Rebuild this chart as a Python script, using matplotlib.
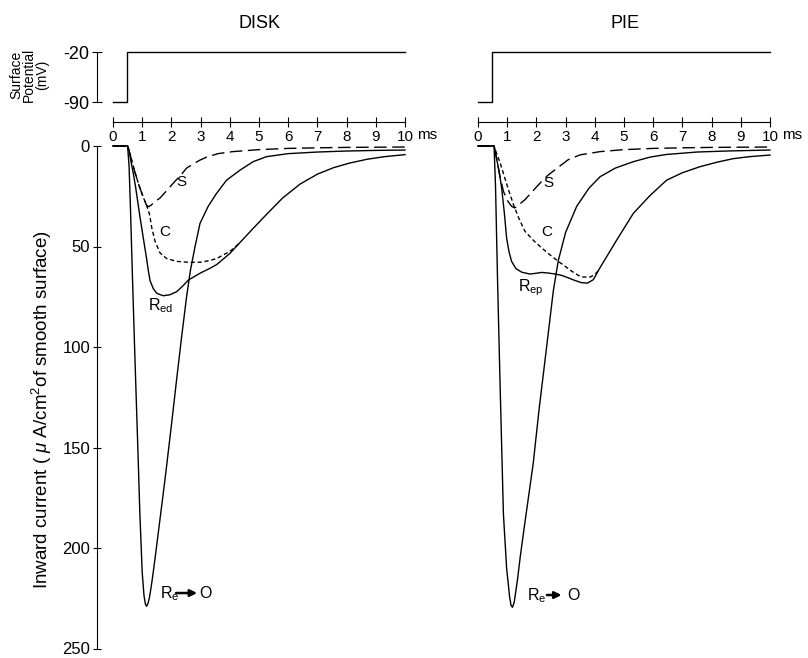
import numpy as np
import matplotlib
matplotlib.use('Agg')
import matplotlib.pyplot as plt

plt.rcParams['font.family'] = ['Liberation Sans', 'DejaVu Sans']
plt.rcParams['mathtext.fontset'] = 'custom'
plt.rcParams['mathtext.rm'] = 'Liberation Sans'
plt.rcParams['mathtext.it'] = 'Liberation Sans:italic'

# surface potential step (mV)
pot_t = [0, 0.47, 0.47, 10]
pot_v = [-90, -90, -20, -20]
ruler_ticks = list(range(11))
current_ticks = [0, 50, 100, 150, 200, 250]

# ---- DISK (inward current, uA/cm^2) ----
disk_S_t = [0, 0.5, 0.6, 0.75, 0.9, 1.05, 1.15, 1.22, 1.3, 1.45, 1.61, 1.85, 2.12, 2.35, 2.52, 2.8, 2.98, 3.21, 3.6, 4.1, 5, 6, 7, 8, 9, 10]
disk_S_i = [0, 0, 5, 13, 20, 26, 29.5, 30.2, 29.5, 27.5, 25.9, 22, 17.6, 14, 11, 8.5, 7, 5.5, 3.8, 2.8, 1.8, 1.2, 0.9, 0.7, 0.6, 0.5]

disk_C_t = [0, 0.5, 0.6, 0.75, 0.9, 1.05, 1.15, 1.25, 1.33, 1.44, 1.61, 1.84, 2.18, 2.64, 3.0, 3.3, 3.55, 3.8, 4.0, 4.2, 4.35]
disk_C_i = [0, 0, 5, 13, 20, 26, 29.5, 34, 40.8, 47.4, 53.2, 56, 57.4, 57.9, 57.8, 57, 56, 54, 52.5, 50, 48]

disk_R_t = [0, 0.5, 0.55, 0.62, 0.7, 0.78, 0.9, 1.04, 1.15, 1.21, 1.27, 1.38, 1.5, 1.72, 1.95, 2.18, 2.4, 2.58, 2.98, 3.3, 3.55, 4.0, 4.35, 4.8, 5.26, 5.8, 6.4, 7.0, 7.55, 8.1, 8.7, 9.3, 10]
disk_R_i = [0, 0, 2, 8, 14, 21, 33, 46, 56, 62, 67, 71, 73.3, 74.5, 74, 72.5, 69.5, 66.7, 63.3, 61, 59, 53.5, 48, 41, 34, 26, 19, 14, 10.8, 8.5, 6.6, 5.3, 4.3]

disk_Re_t = [0, 0.5, 0.55, 0.6, 0.67, 0.75, 0.85, 0.92, 1.0, 1.06, 1.11, 1.15, 1.2, 1.25, 1.3, 1.36, 1.45, 1.55, 1.78, 2.0, 2.18, 2.35, 2.52, 2.65, 2.81, 2.98, 3.26, 3.55, 3.89, 4.35, 4.8, 5.26, 6.0, 7.0, 8.0, 9.0, 10]
disk_Re_i = [0, 0, 10, 32, 67, 105, 150, 183, 212, 223.5, 228, 229, 227.5, 224.5, 220, 214, 204, 192.5, 166, 139, 116, 95, 75, 62, 50, 38.5, 30, 23.5, 17, 12, 7.8, 5.3, 3.8, 3, 2.5, 2.2, 2]

# ---- PIE ----
pie_S_t = [0, 0.55, 0.62, 0.7, 0.75, 0.87, 1.0, 1.15, 1.25, 1.33, 1.45, 1.61, 1.9, 2.18, 2.4, 2.64, 3.09, 3.5, 4.18, 5, 6, 7, 8, 9, 10]
pie_S_i = [0, 0, 5, 11, 15, 22.5, 27, 30, 30.8, 30.3, 28.6, 26.7, 22, 17.6, 14.5, 11.8, 6.8, 4.4, 2.8, 1.8, 1.2, 0.9, 0.7, 0.6, 0.5]

pie_C_t = [0, 0.55, 0.62, 0.75, 0.92, 1.05, 1.21, 1.4, 1.61, 1.9, 2.18, 2.45, 2.75, 3.0, 3.21, 3.45, 3.6, 3.84, 4.0, 4.15]
pie_C_i = [0, 0, 3, 8, 16, 22, 29, 36, 42.5, 47, 50.7, 54, 57.4, 60, 62.3, 64.5, 65.2, 65.2, 64, 61.5]

pie_R_t = [0, 0.55, 0.62, 0.7, 0.75, 0.81, 0.9, 0.98, 1.06, 1.15, 1.3, 1.5, 1.78, 2.0, 2.18, 2.4, 2.64, 2.85, 3.04, 3.3, 3.55, 3.75, 3.95, 4.18, 4.45, 4.75, 5.32, 5.9, 6.46, 7.0, 7.6, 8.2, 8.74, 9.3, 10]
pie_R_i = [0, 0, 5, 11, 15, 21, 33, 45.8, 52.5, 57.4, 61, 62.8, 63.7, 63.3, 62.9, 63.2, 63.7, 64.3, 65.3, 66.8, 68, 68.2, 66.5, 60.5, 54, 46.8, 33.5, 24.5, 17, 13.3, 10.3, 8, 6.3, 5.3, 4.5]

pie_Re_t = [0, 0.55, 0.6, 0.67, 0.75, 0.87, 0.98, 1.03, 1.08, 1.13, 1.18, 1.24, 1.3, 1.35, 1.45, 1.6, 1.89, 2.1, 2.35, 2.58, 2.75, 3.0, 3.38, 3.8, 4.18, 4.7, 5.32, 5.9, 6.46, 7.5, 8.5, 10]
pie_Re_i = [0, 0, 20, 67, 115, 183, 210, 217, 224, 228.5, 229.5, 227, 221, 216, 204, 188, 158, 130, 100, 72, 57, 43, 30, 21, 15.3, 11, 7.8, 5.5, 4.2, 3, 2.5, 2]

W, H = 808, 658
PX_MS = 29.2


def fig_box(left, top, right, bottom):
    return [left / W, 1 - bottom / H, (right - left) / W, (bottom - top) / H]


fig = plt.figure(figsize=(W / 100, H / 100), dpi=100)

panels = [
    dict(x0=113, title='DISK', title_x=260, show_y=True,
         S=(disk_S_t, disk_S_i), C=(disk_C_t, disk_C_i), R=(disk_R_t, disk_R_i), Re=(disk_Re_t, disk_Re_i),
         rname=r'R$_{\mathrm{ed}}$', s_pos=(2.35, 17.8), c_pos=(1.78, 42.6), r_pos=(1.19, 81.6),
         re_pos=(1.61, 225, 2.16, 2.88, 2.95, 222.4)),
    dict(x0=478, title='PIE', title_x=625, show_y=False,
         S=(pie_S_t, pie_S_i), C=(pie_C_t, pie_C_i), R=(pie_R_t, pie_R_i), Re=(pie_Re_t, pie_Re_i),
         rname=r'R$_{\mathrm{ep}}$', s_pos=(2.41, 18.2), c_pos=(2.35, 43), r_pos=(1.38, 72.5),
         re_pos=(1.68, 226, 2.36, 2.86, 3.04, 223.4)),
]

for p in panels:
    left = p['x0'] - 16
    right = p['x0'] + 10 * PX_MS
    xlim = (-16 / PX_MS, 10)

    # surface potential trace
    ax_p = fig.add_axes(fig_box(left, 52, right, 102))
    ax_p.plot(pot_t, pot_v, color='k', lw=1.0, clip_on=False)
    ax_p.set_xlim(*xlim)
    ax_p.set_ylim(-90, -20)
    ax_p.patch.set_visible(False)
    for s in ['top', 'right', 'bottom']:
        ax_p.spines[s].set_visible(False)
    ax_p.set_xticks([])
    if p['show_y']:
        ax_p.set_yticks([-20, -90])
        ax_p.set_yticklabels(['-20', '-90'], fontsize=13)
        ax_p.tick_params(axis='y', direction='inout', length=7, width=0.8, pad=2)
        ax_p.spines['left'].set_linewidth(0.8)
    else:
        ax_p.spines['left'].set_visible(False)
        ax_p.set_yticks([])

    # time ruler
    ax_r = fig.add_axes(fig_box(left, 112, right, 122))
    ax_r.set_xlim(*xlim)
    ax_r.set_ylim(0, 1)
    ax_r.patch.set_visible(False)
    for s in ['top', 'right', 'left']:
        ax_r.spines[s].set_visible(False)
    ax_r.spines['bottom'].set_bounds(0, 10)
    ax_r.spines['bottom'].set_linewidth(0.8)
    ax_r.set_yticks([])
    ax_r.set_xticks(ruler_ticks)
    ax_r.set_xticklabels([str(t) for t in ruler_ticks], fontsize=11)
    ax_r.tick_params(axis='x', direction='inout', length=7, width=0.8, pad=2)
    ax_r.annotate('ms', xy=(10, 0), xycoords=('data', 'axes fraction'), xytext=(9, -4.5),
                  textcoords='offset points', ha='left', va='top', fontsize=11)

    # inward current
    ax = fig.add_axes(fig_box(left, 146, right, 648.5))
    ax.set_xlim(*xlim)
    ax.set_ylim(250, 0)
    ax.patch.set_visible(False)
    for s in ['top', 'right', 'bottom']:
        ax.spines[s].set_visible(False)
    ax.set_xticks([])
    if p['show_y']:
        ax.set_yticks(current_ticks)
        ax.set_yticklabels([str(t) for t in current_ticks], fontsize=12)
        ax.tick_params(axis='y', direction='inout', length=6, width=0.8, pad=2)
        ax.spines['left'].set_linewidth(0.8)
    else:
        ax.spines['left'].set_visible(False)
        ax.set_yticks([])

    ax.plot(*p['Re'], color='k', lw=1.0, clip_on=False)
    ax.plot(*p['R'], color='k', lw=1.0, clip_on=False)
    ax.plot(*p['C'], color='k', lw=1.0, dashes=(3, 2), clip_on=False)
    ax.plot(*p['S'], color='k', lw=1.0, dashes=(9, 4), clip_on=False)

    ax.text(*p['s_pos'], 'S', fontsize=11, ha='center', va='center')
    ax.text(*p['c_pos'], 'C', fontsize=11, ha='center', va='center')
    ax.text(*p['r_pos'], p['rname'], fontsize=11.5, ha='left', va='baseline')

    rx, rb, a0, a1, ox, ay = p['re_pos']
    ax.text(rx, rb, r'R$_{\mathrm{e}}$', fontsize=11.5, ha='left', va='baseline')
    ax.annotate('', xy=(a1, ay), xytext=(a0, ay),
                arrowprops=dict(arrowstyle='-|>', color='k', lw=1.8, mutation_scale=10, shrinkA=0, shrinkB=0))
    ax.text(ox, rb, 'O', fontsize=11.5, ha='left', va='baseline')

    fig.text(p['title_x'] / W, 1 - 23 / H, p['title'], ha='center', va='center', fontsize=13)

fig.text(29 / W, 1 - 75 / H, 'Surface\nPotential\n(mV)', rotation=90, ha='center', va='center',
         fontsize=10, linespacing=0.88, multialignment='center')
fig.text(42 / W, 1 - 410 / H, r'Inward current ( $\mu$ A/cm$^2$of smooth surface)', rotation=90,
         ha='center', va='center', fontsize=13.5)

fig.savefig('out.png', dpi=100)
